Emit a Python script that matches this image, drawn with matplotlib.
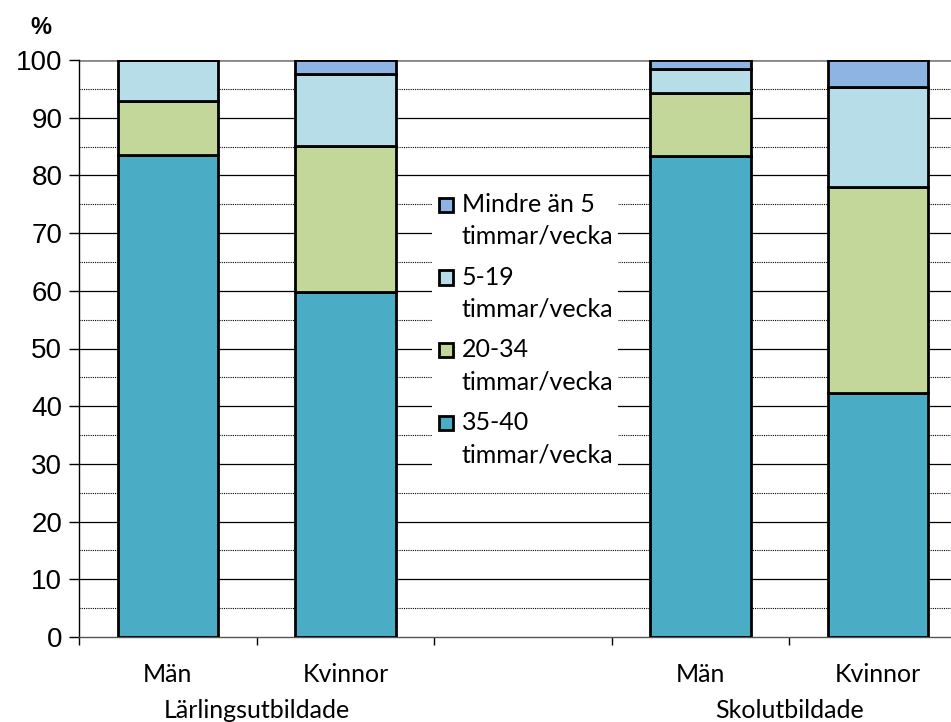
import matplotlib
matplotlib.use("Agg")
import matplotlib.pyplot as plt
from matplotlib.patches import Rectangle
import numpy as np

positions = [0, 1, 3, 4]
categories = ["Män", "Kvinnor", "Män", "Kvinnor"]
groups = ["Lärlingsutbildade", "Skolutbildade"]
group_pos = [0.5, 3.5]
series_names = ["35-40\ntimmar/vecka", "20-34\ntimmar/vecka", "5-19\ntimmar/vecka", "Mindre än 5\ntimmar/vecka"]
v_35_40 = [83.5, 59.8, 83.4, 42.3]
v_20_34 = [9.4, 25.3, 10.9, 35.7]
v_5_19 = [7.1, 12.5, 4.1, 17.3]
v_lt5 = [0.0, 2.4, 1.6, 4.7]
colors = ["#4BACC6", "#C4D79B", "#B7DEE8", "#8DB4E2"]

fig = plt.figure(figsize=(9.51, 7.22), dpi=100)
W, H = 951, 722
AX_L, AX_B, AX_W, AX_H = 79, 637, 872, 577
ax = fig.add_axes([AX_L / W, (H - AX_B) / H, AX_W / W, AX_H / H])

def axx(px):
    return (px - AX_L) / AX_W

def axy(py):
    return (AX_B - py) / AX_H

cfont = "Lato"
series = [v_35_40, v_20_34, v_5_19, v_lt5]
bottom = np.zeros(4)
for vals, col in zip(series, colors):
    vals = np.array(vals)
    ax.bar(positions, vals, bottom=bottom, width=0.565, color=col,
           edgecolor="black", linewidth=2.0, zorder=3)
    bottom += vals

ax.set_ylim(0, 100)
ax.set_xlim(-0.5, 4.41)
for y in range(10, 100, 10):
    ax.axhline(y, color="black", lw=0.9, zorder=1)
for y in range(5, 100, 10):
    ax.axhline(y, color="black", lw=0.8, ls=(0, (1, 1)), zorder=1)
ax.axhline(100, color="#888888", lw=2, zorder=1)

ax.set_yticks(range(0, 101, 10))
ax.set_yticklabels([str(v) for v in range(0, 101, 10)], fontsize=20,
                   family="Liberation Sans")
ax.tick_params(axis="y", length=7, width=1, pad=5, direction="out")
ax.set_xticks([-0.5, 0.5, 1.5, 2.5, 3.5])
ax.set_xticklabels([])
ax.tick_params(axis="x", length=6, width=1, direction="out")
for p, c in zip(positions, categories):
    ax.text(p, -4.5, c, ha="center", va="top", fontsize=18, family=cfont)
for p, g in zip(group_pos, groups):
    ax.text(p, -10.8, g, ha="center", va="top", fontsize=18, family=cfont)

for s in ["top", "right"]:
    ax.spines[s].set_visible(False)
ax.spines["left"].set_linewidth(1)
ax.spines["bottom"].set_linewidth(1)
ax.spines["bottom"].set_color("#555555")

fig.text(41 / W, 1 - 27 / H, "%", ha="center", va="center", fontsize=17,
         fontweight="bold", family="Liberation Sans")

# legend drawn manually (square aligned with first line of each label)
ax.add_patch(Rectangle((axx(432), axy(470)), axx(618) - axx(432),
                       axy(188) - axy(470), transform=ax.transAxes,
                       facecolor="white", edgecolor="none", zorder=4))
names = series_names[::-1]
cols = colors[::-1]
for i, (nm, col) in enumerate(zip(names, cols)):
    base = 212 + 72.7 * i
    ax.add_patch(Rectangle((axx(438.5), axy(base)), axx(453) - axx(438.5),
                           axy(base - 14.5) - axy(base), transform=ax.transAxes,
                           facecolor=col, edgecolor="black", linewidth=2.0,
                           zorder=5))
    for j, line in enumerate(nm.split("\n")):
        ax.text(axx(462), axy(base + 32 * j), line, transform=ax.transAxes,
                ha="left", va="baseline", fontsize=18, family=cfont, zorder=6)

fig.savefig("out.png", dpi=100)
